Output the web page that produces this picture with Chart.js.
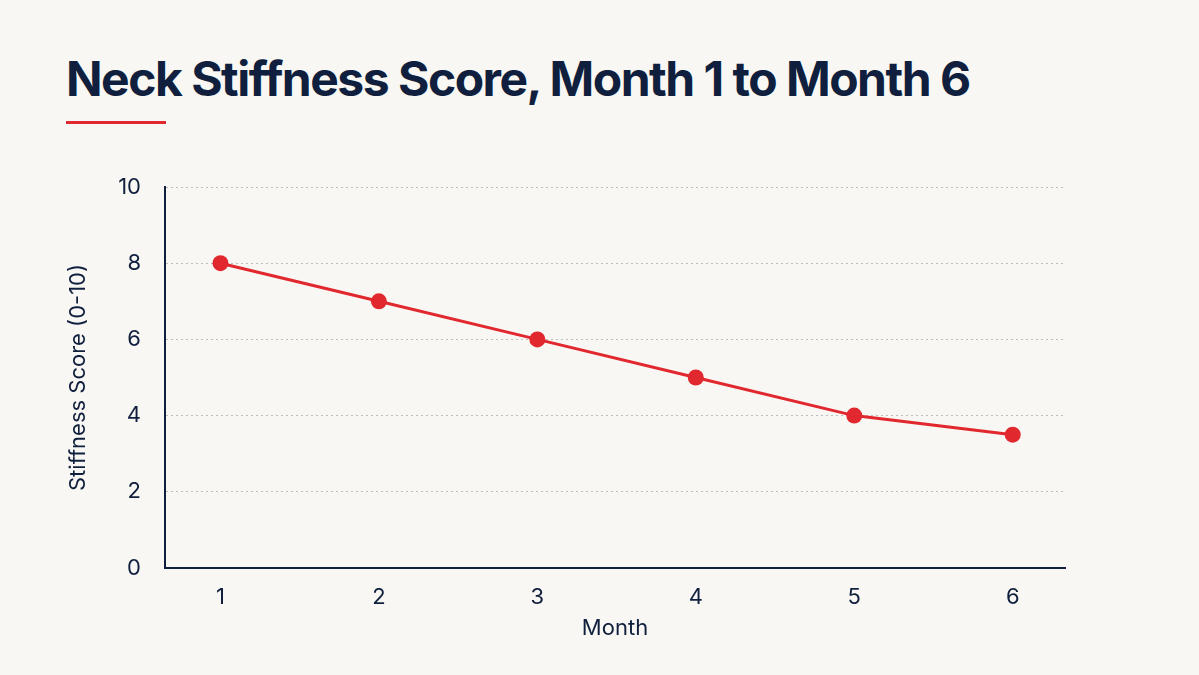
<!DOCTYPE html>
<html>
<head>
<meta charset="utf-8">
<script src="https://cdn.jsdelivr.net/npm/chart.js@4"></script>
<style>
  html, body { margin: 0; padding: 0; background: #f9f7f3; }
  #wrap { position: relative; width: 1199px; height: 675px; overflow: hidden; }
  #title {
    position: absolute; left: 66px; top: 49px;
    font-family: Inter, "Noto Sans", sans-serif; font-weight: 700;
    font-size: 48px; letter-spacing: -1.5px; color: #0f1f3d; white-space: nowrap;
  }
  #bar { position: absolute; left: 66px; top: 121px; width: 100px; height: 3px; background: #e0282e; }
  #chartBox { position: absolute; left: 0; top: 0; width: 1199px; height: 675px; }
</style>
</head>
<body>
<div id="wrap">
  <div id="title">Neck Stiffness Score, Month 1 to Month 6</div>
  <div id="bar"></div>
  <div id="chartBox"><canvas id="chart"></canvas></div>
</div>
<script>
// Dados
const months = [1, 2, 3, 4, 5, 6];
const scores = [8, 7, 6, 5, 4, 3.5];
const yTicks = [0, 2, 4, 6, 8, 10];

const navy = '#0f1f3d';
const red = '#e0282e';
const tickFont = { family: 'Inter, "Noto Sans", sans-serif', size: 22 };

const chart = new Chart(document.getElementById('chart'), {
    type: 'line',
    data: {
        datasets: [{
            label: 'Stiffness Score',
            data: months.map((m, i) => ({ x: m, y: scores[i] })),
            borderColor: red,
            backgroundColor: red,
            borderWidth: 3,
            pointRadius: 8,
            pointHoverRadius: 8,
            pointBackgroundColor: red,
            pointBorderWidth: 0,
            tension: 0
        }]
    },
    options: {
        responsive: true,
        maintainAspectRatio: false,
        animation: false,
        layout: { padding: { left: 0, right: 134, top: 187, bottom: 0 } },
        plugins: {
            legend: { display: false },
            tooltip: { enabled: false }
        },
        scales: {
            x: {
                type: 'linear',
                min: 0.65,
                max: 6.33,
                afterFit(scale) { scale.height = 107; },
                afterBuildTicks(scale) { scale.ticks = months.map(v => ({ value: v })); },
                ticks: { color: navy, font: tickFont, padding: 16 },
                grid: { display: false, drawTicks: false },
                border: { display: true, color: navy, width: 2 },
                title: {
                    display: true, text: 'Month', color: navy, font: tickFont,
                    padding: { top: 0, bottom: 33 }
                }
            },
            y: {
                min: 0,
                max: 10,
                afterFit(scale) { scale.width = 165; },
                afterBuildTicks(scale) { scale.ticks = yTicks.map(v => ({ value: v })); },
                ticks: { color: navy, font: tickFont, padding: 24 },
                grid: {
                    drawTicks: false,
                    color: ctx => ctx.tick.value === 0 ? 'rgba(0,0,0,0)' : '#bdbdbd',
                    lineWidth: 1
                },
                // linhas de grelha pontilhadas
                border: { display: true, color: navy, width: 2, dash: [2, 3] },
                title: {
                    display: true, text: 'Stiffness Score (0-10)', color: navy, font: tickFont,
                    padding: { top: 65, bottom: 0 }
                }
            }
        }
    }
});
</script>
</body>
</html>
